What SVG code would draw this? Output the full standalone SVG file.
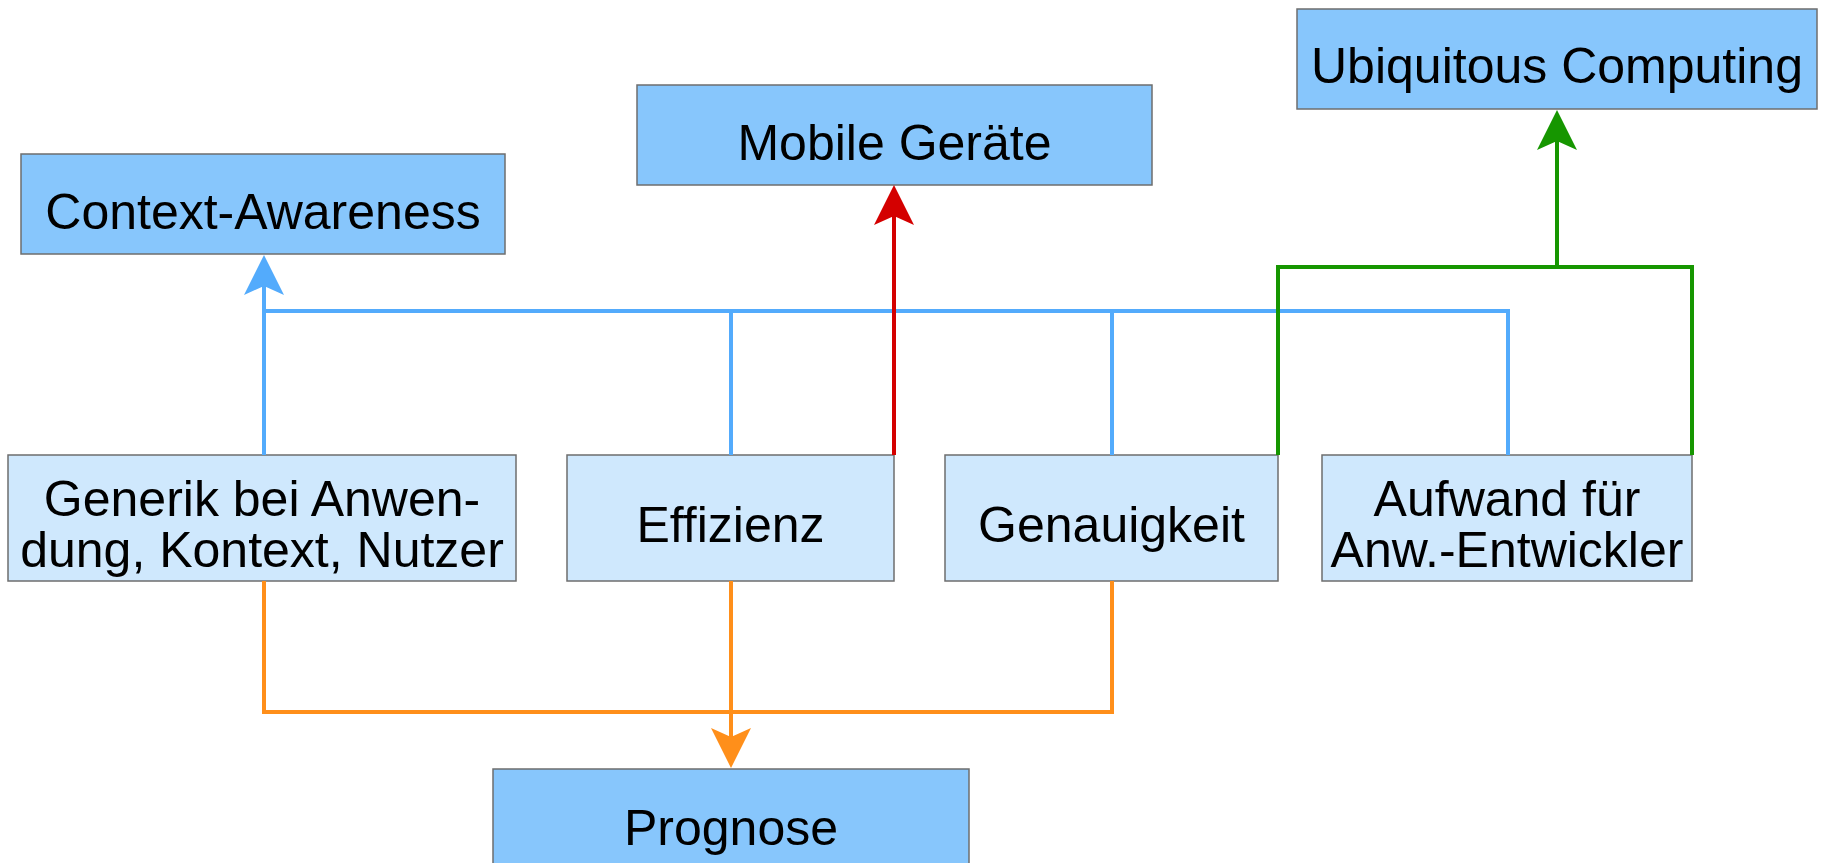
<svg xmlns="http://www.w3.org/2000/svg" width="1822" height="863" viewBox="0 0 1822 863">
  <style>
    .dark { fill: #87c6fc; stroke: #6e6e6e; stroke-width: 1.5; }
    .light { fill: #cfe8fd; stroke: #6e6e6e; stroke-width: 1.5; }
    .lbl { font-family: "Liberation Sans", Arial, sans-serif; font-size: 50px; fill: #000; text-anchor: middle; }
    .wire { fill: none; stroke-width: 4; stroke-linejoin: miter; stroke-linecap: butt; }
    .blue { stroke: #53abfc; }
    .red { stroke: #d40000; }
    .green { stroke: #169600; }
    .orange { stroke: #ff8f1a; }
  </style>
  <defs>
    <marker id="headBlue" markerUnits="userSpaceOnUse" markerWidth="40" markerHeight="40" refX="9" refY="20" orient="auto" overflow="visible">
      <path d="M0,0 L40,20 L0,40 L9,20 Z" fill="#53abfc"/>
    </marker>
    <marker id="headRed" markerUnits="userSpaceOnUse" markerWidth="40" markerHeight="40" refX="9" refY="20" orient="auto" overflow="visible">
      <path d="M0,0 L40,20 L0,40 L9,20 Z" fill="#d40000"/>
    </marker>
    <marker id="headGreen" markerUnits="userSpaceOnUse" markerWidth="40" markerHeight="40" refX="9" refY="20" orient="auto" overflow="visible">
      <path d="M0,0 L40,20 L0,40 L9,20 Z" fill="#169600"/>
    </marker>
    <marker id="headOrange" markerUnits="userSpaceOnUse" markerWidth="40" markerHeight="40" refX="9" refY="20" orient="auto" overflow="visible">
      <path d="M0,0 L40,20 L0,40 L9,20 Z" fill="#ff8f1a"/>
    </marker>
  </defs>

  <!-- top-level nodes -->
  <g id="ubiquitous-computing">
    <rect class="dark" x="1297" y="9" width="520" height="100"/>
    <text class="lbl" x="1557" y="83">Ubiquitous Computing</text>
  </g>
  <g id="mobile-geraete">
    <rect class="dark" x="637" y="85" width="515" height="100"/>
    <text class="lbl" x="894.5" y="160">Mobile Geräte</text>
  </g>
  <g id="context-awareness">
    <rect class="dark" x="21" y="154" width="484" height="100"/>
    <text class="lbl" x="263" y="229">Context-Awareness</text>
  </g>

  <!-- criteria nodes -->
  <g id="generik">
    <rect class="light" x="8" y="455" width="508" height="126"/>
    <text class="lbl" x="262" y="516">Generik bei Anwen-</text>
    <text class="lbl" x="262" y="567">dung, Kontext, Nutzer</text>
  </g>
  <g id="effizienz">
    <rect class="light" x="567" y="455" width="327" height="126"/>
    <text class="lbl" x="730.5" y="542">Effizienz</text>
  </g>
  <g id="genauigkeit">
    <rect class="light" x="945" y="455" width="333" height="126"/>
    <text class="lbl" x="1111.5" y="542">Genauigkeit</text>
  </g>
  <g id="aufwand">
    <rect class="light" x="1322" y="455" width="370" height="126"/>
    <text class="lbl" x="1507" y="516">Aufwand für</text>
    <text class="lbl" x="1507" y="567">Anw.-Entwickler</text>
  </g>

  <!-- bottom node -->
  <g id="prognose">
    <rect class="dark" x="493" y="769" width="476" height="110"/>
    <text class="lbl" x="731" y="845">Prognose</text>
  </g>

  <!-- connectors -->
  <g id="connectors">
    <path class="wire orange" d="M264,581 V712 H1112 V581"/>
    <path class="wire orange" d="M731,581 V737" marker-end="url(#headOrange)"/>
    <path class="wire blue" d="M731,455 V311 H1508 V455"/>
    <path class="wire blue" d="M1112,455 V311"/>
    <path class="wire blue" d="M264,311 H731"/>
    <path class="wire blue" d="M264,455 V286" marker-end="url(#headBlue)"/>
    <path class="wire red" d="M894,455 V216" marker-end="url(#headRed)"/>
    <path class="wire green" d="M1278,455 V267 H1692 V455"/>
    <path class="wire green" d="M1557,267 V141" marker-end="url(#headGreen)"/>
  </g>
</svg>
